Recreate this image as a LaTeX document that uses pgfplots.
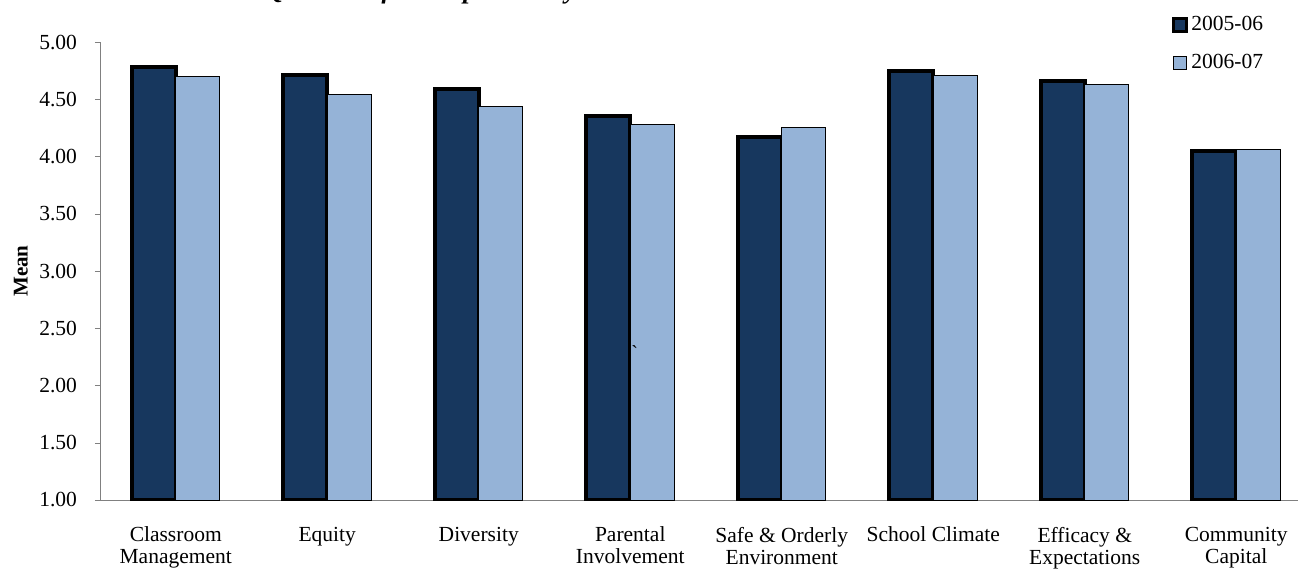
\documentclass[border=0pt]{standalone}
\usepackage{fontspec}
\setmainfont{Liberation Serif}
\usepackage{pgfplots}
\pgfplotsset{compat=1.18}
\definecolor{navy}{HTML}{17375E}
\definecolor{sky}{HTML}{95B3D7}
\pgfplotsset{
  sqlegend/.style={legend image code/.code={\draw[##1] (0pt,-3.25pt) rectangle (6.5pt,3.25pt);}},
  sqlegendthick/.style={legend image code/.code={\draw[##1, line width=1.5pt] (0pt,-3.25pt) rectangle (6.5pt,3.25pt);}},
}

\begin{document}
\begin{tikzpicture}[x=1pt,y=1pt]
% the axis box has its lower left corner at the origin
\fill[white] (-50,-34.5) rectangle (599,250);
\begin{scope}
\clip (-50,-34.5) rectangle (599,250);
% title line, running off the top edge
\node[anchor=base west, inner sep=0, font=\fontsize{13}{15}\selectfont\bfseries\itshape]
  at (82.5,250.8) {Qualities of Principal Survey};
\begin{axis}[
  anchor=south west,
  scale only axis, width=599pt, height=229pt,
  ybar=0pt, bar width=22pt,
  xmin=-0.5, xmax=7.4076, ymin=1, ymax=5,
  axis x line=bottom, axis y line=left,
  axis line style={draw=gray, -},
  tick align=outside,
  tick style={draw=gray},
  major tick length=2.5pt,
  minor tick length=3.5pt,
  xtick={0,...,7},
  xtick style={draw=none},
  minor xtick={-0.5,0.5,...,6.5},
  xticklabels={{Classroom\\Management},Equity,Diversity,{Parental\\Involvement},
    {Safe \& Orderly\\Environment},School Climate,{Efficacy \&\\Expectations},{Community\\Capital}},
  xticklabel style={align=center, font=\fontsize{10.75}{11}\selectfont, yshift=-7.5pt},
  ytick={1,1.5,...,5},
  yticklabel style={font=\fontsize{10.75}{13}\selectfont, xshift=-5.5pt,
    /pgf/number format/.cd, fixed, fixed zerofill, precision=2},
  /pgf/number format/assume math mode=true,
  ylabel={Mean},
  ylabel style={at={(axis description cs:-0.066,0.5)}, anchor=center,
    font=\fontsize{10.5}{12}\selectfont\bfseries},
  legend style={at={(axis description cs:0.8948,1.066)}, anchor=north west,
    draw=none, fill=none, font=\fontsize{10.75}{13}\selectfont,
    row sep=6.5pt, inner sep=0pt,
    nodes={inner xsep=1.5pt}},
  legend cell align=left,
]
\addplot[fill=navy, draw=black, line width=2pt, sqlegendthick]
  coordinates {(0,4.78) (1,4.71) (2,4.59) (3,4.35) (4,4.17) (5,4.75) (6,4.66) (7,4.05)};
\addlegendentry{2005-06}
\addplot[fill=sky, draw=black, line width=0.5pt, sqlegend]
  coordinates {(0,4.70) (1,4.54) (2,4.44) (3,4.28) (4,4.25) (5,4.71) (6,4.63) (7,4.06)};
\addlegendentry{2006-07}
\node[font=\fontsize{10}{12}\selectfont] at (axis cs:3.03,2.29) {\textasciigrave};
\end{axis}
\end{scope}
\pgfresetboundingbox
\useasboundingbox (-50,-34.5) rectangle (599,250);
\end{tikzpicture}
\end{document}
